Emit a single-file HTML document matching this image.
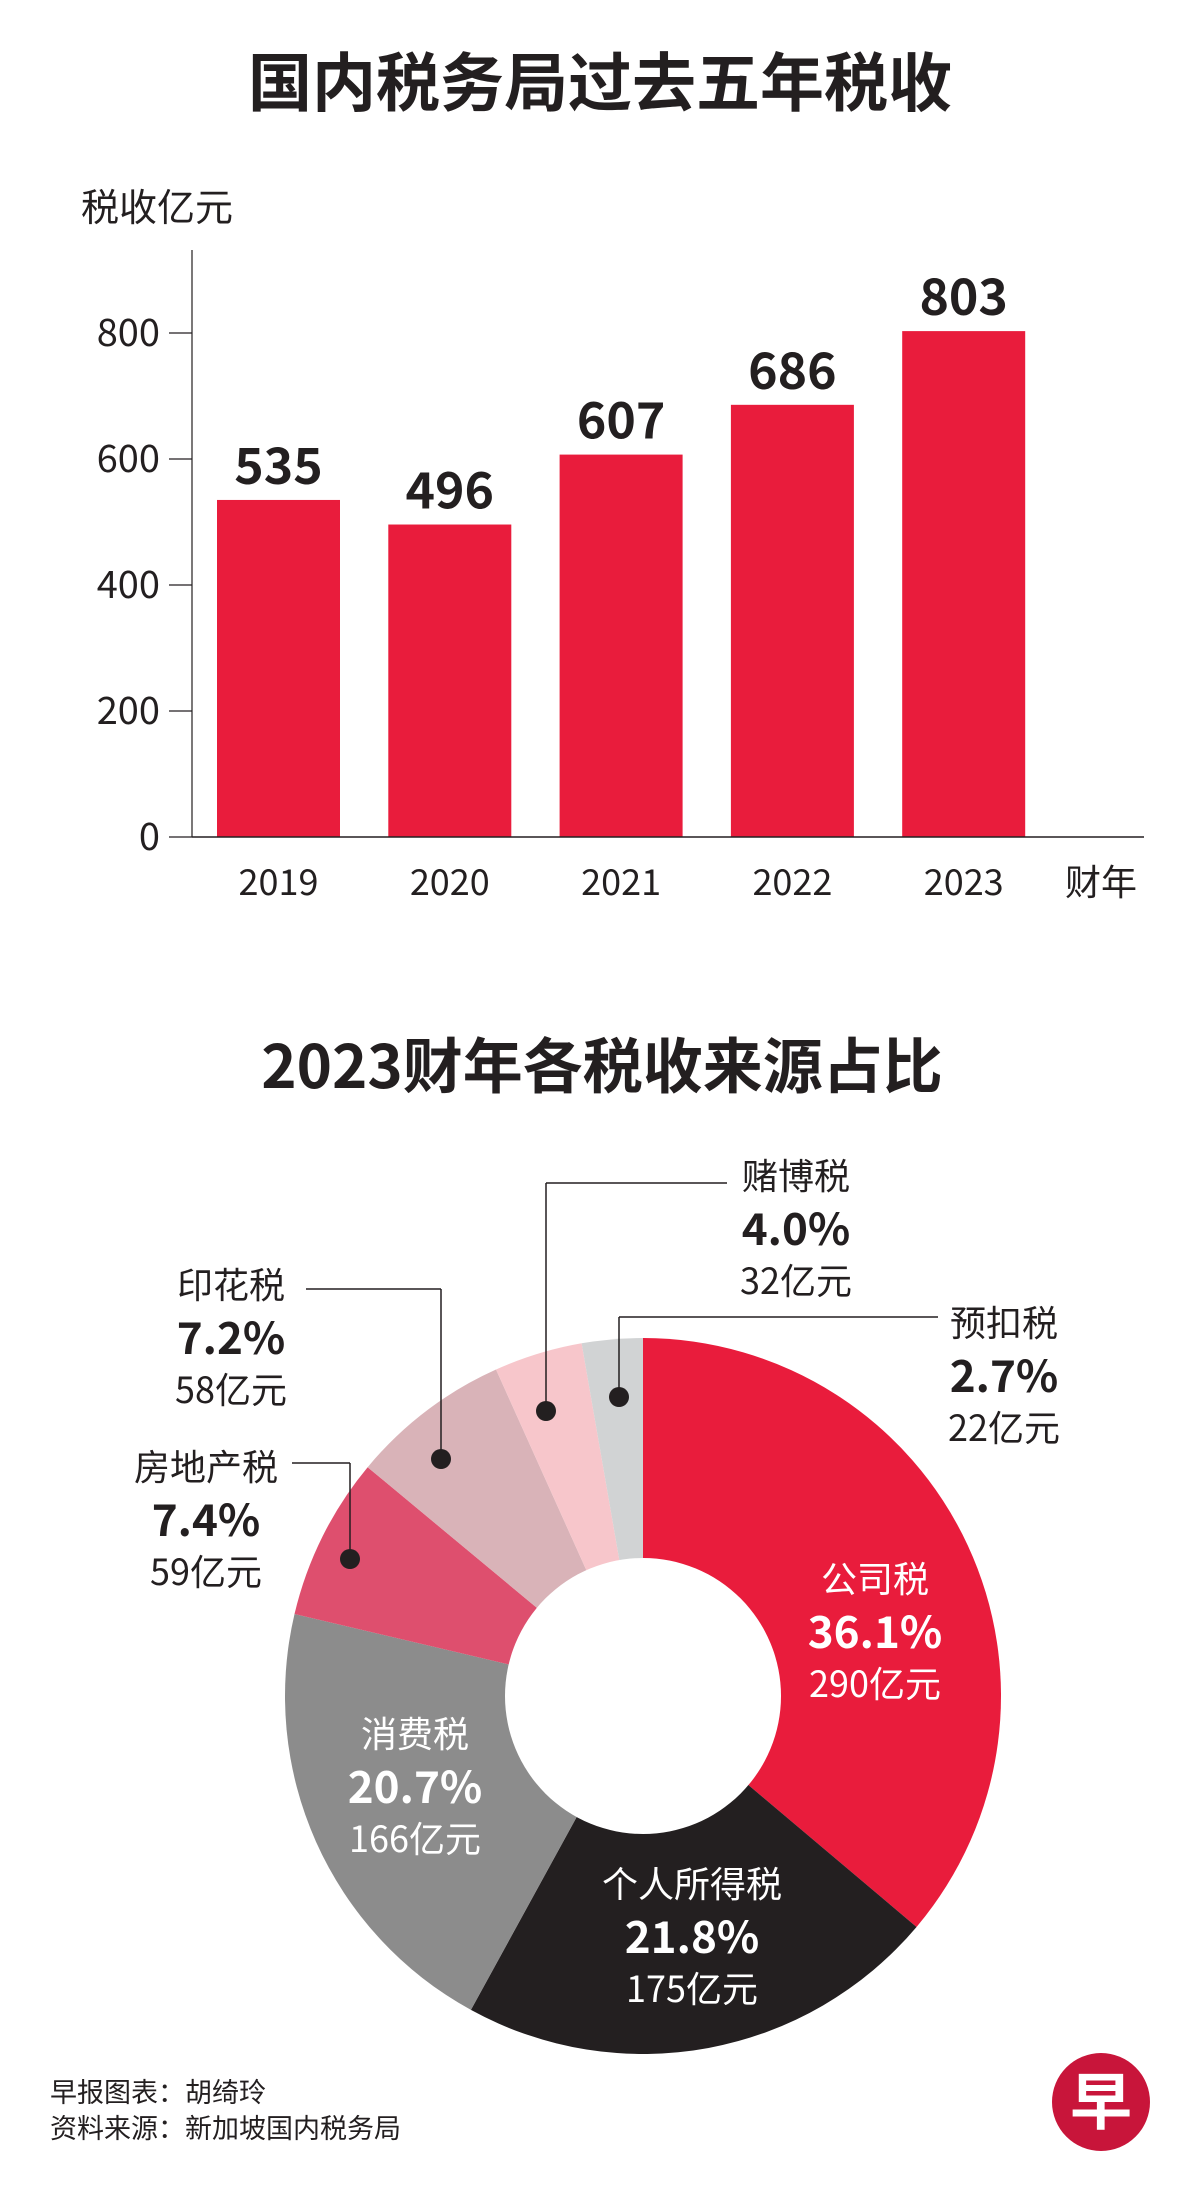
<!DOCTYPE html>
<html><head><meta charset="utf-8">
<style>
html,body{margin:0;padding:0;background:#fff;}
body{width:1200px;height:2194px;overflow:hidden;}
svg text{font-family:"Liberation Sans","Noto Sans CJK SC",sans-serif;}
</style></head>
<body>
<svg id="chart" width="1200" height="2194" viewBox="0 0 1200 2194" xmlns="http://www.w3.org/2000/svg">
<text x="600" y="106" text-anchor="middle" font-size="64" font-weight="bold" fill="#231f20" style='font-family:"Noto Sans CJK SC",sans-serif'>国内税务局过去五年税收</text>
<text x="81" y="221" font-size="38" fill="#231f20" style='font-family:"Noto Sans CJK SC",sans-serif'>税收亿元</text>
<g id="bars"></g>
<text x="602" y="1088" text-anchor="middle" font-size="60" font-weight="bold" fill="#231f20" style='font-family:"Noto Sans CJK SC",sans-serif'>2023财年各税收来源占比</text>
<g id="pie"></g>
<g id="labels"></g>
<text x="50" y="2102" font-size="27" fill="#231f20" style='font-family:"Noto Sans CJK SC",sans-serif'>早报图表：胡绮玲</text>
<text x="50" y="2138" font-size="27" fill="#231f20" style='font-family:"Noto Sans CJK SC",sans-serif'>资料来源：新加坡国内税务局</text>
<g>
<circle cx="1101" cy="2102" r="49" fill="#c8153a"/>
<text x="1101" y="2124" text-anchor="middle" font-size="62" font-weight="bold" fill="#fff" style='font-family:"Noto Sans CJK SC",sans-serif'>早</text>
</g>
</svg>
<script>
const years = ['2019','2020','2021','2022','2023'];
const revenue = [535, 496, 607, 686, 803];
const yTicks = [0, 200, 400, 600, 800];

const sliceNames = ['公司税','个人所得税','消费税','房地产税','印花税','赌博税','预扣税'];
const slicePct = ['36.1%','21.8%','20.7%','7.4%','7.2%','4.0%','2.7%'];
const sliceValues = [290, 175, 166, 59, 58, 32, 22];
const sliceValueLabels = ['290亿元','175亿元','166亿元','59亿元','58亿元','32亿元','22亿元'];

const NS = 'http://www.w3.org/2000/svg';
function mk(tag, attrs, parent){const e=document.createElementNS(NS,tag);for(const k in attrs)e.setAttribute(k,attrs[k]);parent.appendChild(e);return e;}
const CJK = '"Noto Sans CJK SC",sans-serif';

// Bar chart
const bars = document.getElementById('bars');
const axisX = 192, baseY = 837, perUnit = (837-333)/800;
const y = v => baseY - v*perUnit;
const x0 = 217, step = 171.3, bw = 123;
const xb = i => x0 + i*step;
yTicks.forEach(t=>{
  const tk = mk('line',{x1:169,x2:axisX,y1:y(t),y2:y(t),stroke:'#231f20','stroke-width':1.2},bars);
  
  
  const tl = mk('text',{x:160,y:y(t)+13,'text-anchor':'end','font-size':38,fill:'#231f20'},bars);
  
  
  tl.style.fontFamily = CJK;
  tl.textContent = t;
});
const ya = mk('line',{x1:axisX,x2:axisX,y1:250,y2:baseY,stroke:'#231f20','stroke-width':1.2},bars);


revenue.forEach((v,i)=>{
  const r = mk('rect',{x:xb(i),y:y(v),width:bw,height:baseY-y(v),fill:'#e91c3c'},bars);
  
  
  const vl = mk('text',{x:xb(i)+bw/2,y:y(v)-16,'text-anchor':'middle','font-size':50,'font-weight':'bold',fill:'#231f20'},bars);
  
  
  vl.style.fontFamily = CJK;
  vl.textContent = v;
  const xl = mk('text',{x:xb(i)+bw/2,y:895,'text-anchor':'middle','font-size':36,fill:'#231f20'},bars);
  
  
  xl.style.fontFamily = CJK;
  xl.textContent = years[i];
});
const xa = mk('line',{x1:axisX,x2:1144,y1:baseY,y2:baseY,stroke:'#231f20','stroke-width':1.5},bars);


const xt = mk('text',{x:1101,y:895,'text-anchor':'middle','font-size':36,fill:'#231f20'},bars);


xt.style.fontFamily = CJK;
xt.textContent = '财年';

// Donut
const pie = document.getElementById('pie');
const cx=643, cy=1696, R=358, r0=138;
const colors=['#e91c3c','#231f20','#8c8c8c','#de4f6e','#d9b3b8','#f7c6cb','#d1d3d4'];
const total = sliceValues.reduce((a,b)=>a+b,0);
let acc=0;
const pt=(a,rad)=>[cx+rad*Math.sin(a), cy-rad*Math.cos(a)];
sliceValues.forEach((v,i)=>{
  const a0=acc/total*2*Math.PI; acc+=v; const a1=acc/total*2*Math.PI;
  const [x1,y1]=pt(a0,R),[x2,y2]=pt(a1,R);
  const large=(a1-a0)>Math.PI?1:0;
  const p = mk('path',{d:`M${cx},${cy}L${x1},${y1}A${R},${R} 0 ${large} 1 ${x2},${y2}Z`,fill:colors[i]},pie);
  
  
});
const hole = mk('circle',{cx:cx,cy:cy,r:r0,fill:'#fff'},pie);



// Labels: [centerX, nameBaseline, color]
const lab = document.getElementById('labels');
const labelPos = [[875,1592,'#fff'],[692,1897,'#fff'],[415,1747,'#fff'],[206,1480,'#231f20'],[231,1298,'#231f20'],[796,1189,'#231f20'],[1004,1336,'#231f20']];
labelPos.forEach((p,i)=>{
  const n = mk('text',{x:p[0],y:p[1],'text-anchor':'middle','font-size':36,fill:p[2]},lab);
  
  
  n.style.fontFamily = CJK; n.textContent = sliceNames[i];
  const pc = mk('text',{x:p[0],y:p[1]+56,'text-anchor':'middle','font-size':44,'font-weight':'bold',fill:p[2]},lab);
  
  
  pc.style.fontFamily = CJK; pc.textContent = slicePct[i];
  const vl = mk('text',{x:p[0],y:p[1]+105,'text-anchor':'middle','font-size':36,fill:p[2]},lab);
  
  
  vl.style.fontFamily = CJK; vl.textContent = sliceValueLabels[i];
});
// Leader lines: [horizY, hx1, hx2, vertX, dotY]
const leaders = [[1463,292,350,350,1559],[1289,306,441,441,1459],[1183,546,727,546,1411],[1317,619,938,619,1397]];
leaders.forEach(l=>{
  const pl = mk('polyline',{points:`${l[1]},${l[0]} ${l[2]},${l[0]} ${l[2]===l[3]?l[2]:l[1]},${l[0]}`,fill:'none',stroke:'#231f20','stroke-width':1.5},lab);
  
  
  const vl = mk('line',{x1:l[3],x2:l[3],y1:l[0],y2:l[4],stroke:'#231f20','stroke-width':1.5},lab);
  
  
  const d = mk('circle',{cx:l[3],cy:l[4],r:10,fill:'#231f20'},lab);
  
  
});
</script>
</body></html>
